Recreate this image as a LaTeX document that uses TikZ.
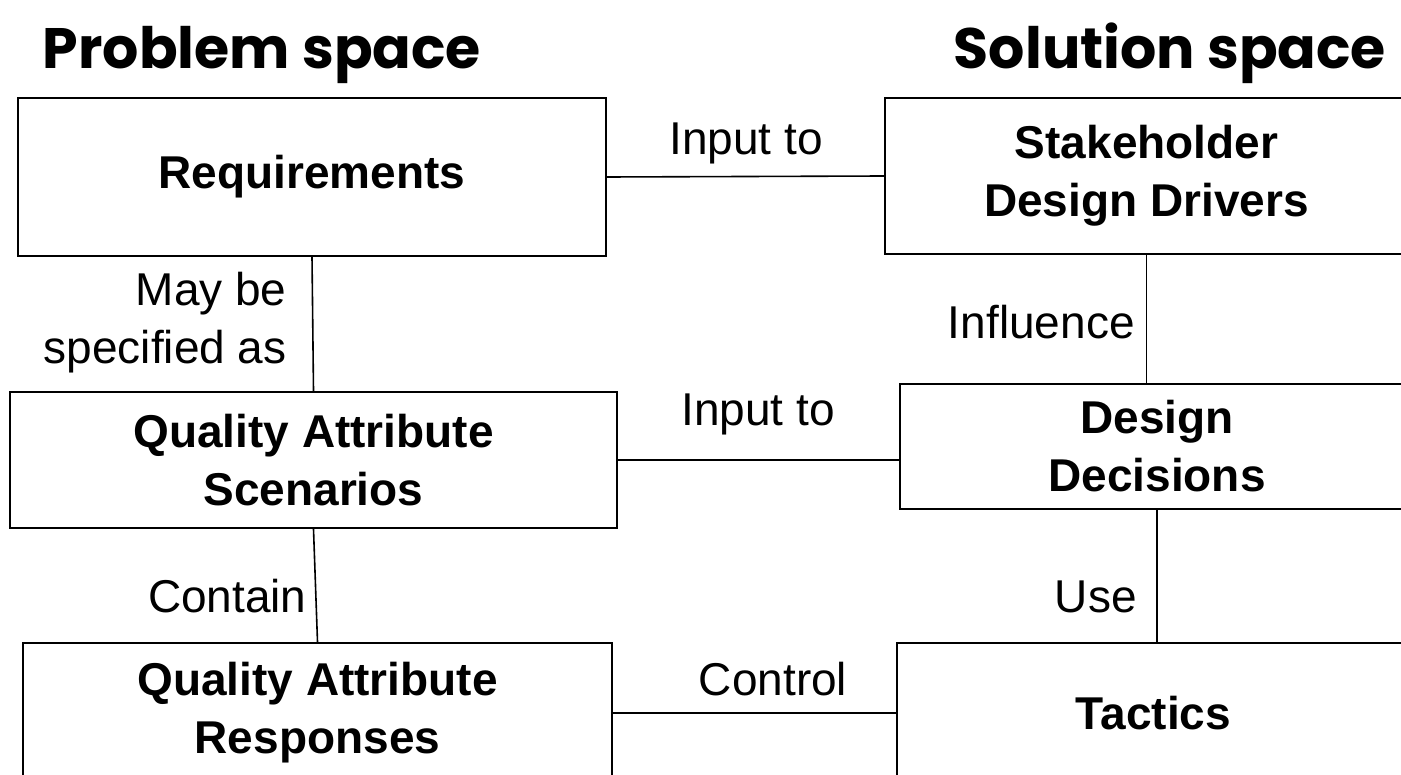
\documentclass[tikz,border=0pt]{standalone}
\usepackage{fontspec}
\setmainfont{Liberation Sans}
\newfontfamily\titelfont{Poppins}
\usetikzlibrary{positioning}

\tikzset{
  kasten/.style={draw, line width=1pt, align=center, inner sep=0pt,
    font=\bfseries\fontsize{23}{29}\selectfont},
  beschr/.style={inner sep=0pt, align=right, font=\fontsize{23}{29}\selectfont},
  titel/.style={inner sep=0pt, anchor=base, font=\titelfont\bfseries\fontsize{28.5}{34}\selectfont},
  linie/.style={line width=0.8pt}
}

\begin{document}
\begin{tikzpicture}[x=0.5pt,y=-0.5pt]
\useasboundingbox (0,0) rectangle (1401,775);
\clip (0,0) rectangle (1401,775);

% Ueberschriften
\node[titel] (prob) at (262,69) {Problem space};
\node[titel] (loes) at (1170,69) {Solution space};

% Problemraum
\node[kasten, minimum width=294pt, minimum height=79pt] (req) at (312,177) {Requirements};
\node[kasten, minimum width=303.5pt, minimum height=68pt] (qas) at (313.5,460) {Quality Attribute\\Scenarios};
\node[kasten, minimum width=294.5pt, minimum height=70pt] (qar) at (317.5,713) {Quality Attribute\\Responses};

% Loesungsraum
\node[kasten, minimum width=261.5pt, minimum height=78pt] (sdd) at (1146.5,176) {Stakeholder\\Design Drivers};
\node[kasten, minimum width=257pt, minimum height=62.5pt] (dd) at (1157,446.5) {Design\\Decisions};
\node[kasten, minimum width=256.5pt, minimum height=70pt] (tac) at (1153.5,713) {Tactics};

% Verbindungen
\draw[linie] (req.east) -- (sdd.west);
\draw[linie] (qas.east) -- (qas.east -| dd.west);
\draw[linie] (qar.east) -- (tac.west);
\draw[linie] (req.south) -- (qas.north);
\draw[linie] (qas.south) -- (qar.north);
\draw[linie] (sdd.south) -- (sdd.south |- dd.north);
\draw[linie] (dd.south) -- (dd.south |- tac.north);

% Beschriftungen
\node[beschr, anchor=base] (l1) at (746,155) {Input to};
\node[beschr, anchor=base] (l2) at (758,425) {Input to};
\node[beschr, anchor=base] (l3) at (773,695) {Control};
\node[beschr, anchor=east] (l4) at (287,323) {May be\\specified as};
\node[beschr, anchor=base east] (l5) at (307,612) {Contain};
\node[beschr, anchor=base east] (l6) at (1135,338) {Influence};
\node[beschr, anchor=base east] (l7) at (1137,612) {Use};

\end{tikzpicture}
\end{document}
